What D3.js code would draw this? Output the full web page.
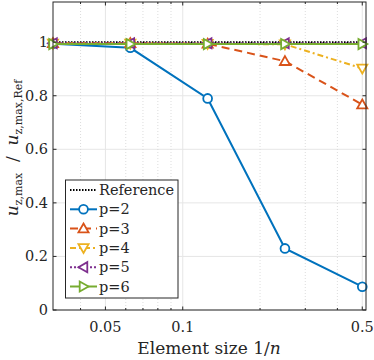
<!DOCTYPE html>
<html>
<head>
<meta charset="utf-8">
<script src="https://cdn.jsdelivr.net/npm/d3@7"></script>
<style>
  body { margin: 0; background: #fff; }
  svg text { font-family: "DejaVu Serif", "Liberation Serif", serif; fill: #262626; }
</style>
</head>
<body>
<svg id="chart" width="374" height="360"></svg>
<script>
  const sizes = [1/32, 1/16, 1/8, 1/4, 1/2];
  const reference = [1, 1, 1, 1, 1];
  const p2 = [0.994, 0.979, 0.790, 0.230, 0.087];
  const p3 = [0.996, 0.996, 0.994, 0.929, 0.767];
  const p4 = [0.995, 0.995, 0.994, 0.992, 0.902];
  const p5 = [0.996, 0.996, 0.996, 0.996, 0.996];
  const p6 = [0.993, 0.993, 0.993, 0.993, 0.993];
  const xTicks = [0.05, 0.1, 0.5];
  const xMinor = [0.04, 0.06, 0.07, 0.08, 0.09, 0.2, 0.3, 0.4];
  const yTicks = [0, 0.2, 0.4, 0.6, 0.8, 1];

  const series = [
    {name: 'p=2', values: p2, color: '#0072BD', dash: null, marker: 'circle'},
    {name: 'p=3', values: p3, color: '#D95319', dash: '8,5', marker: 'up'},
    {name: 'p=4', values: p4, color: '#EDB120', dash: '6,3,2,3', marker: 'down'},
    {name: 'p=5', values: p5, color: '#7E2F8E', dash: '2,2', marker: 'left'},
    {name: 'p=6', values: p6, color: '#77AC30', dash: null, marker: 'right'}
  ];

  const M = {left: 53, right: 366, top: 2, bottom: 310};
  const x = d3.scaleLog().domain([1/32, 0.517]).range([M.left, M.right]);
  const y = d3.scaleLinear().domain([0, 1.15]).range([M.bottom, M.top]);

  const svg = d3.select('#chart');

  // grid
  const grid = svg.append('g');
  grid.selectAll('.ym').data(yTicks).enter().append('line')
    .attr('x1', M.left).attr('x2', M.right)
    .attr('y1', d => y(d)).attr('y2', d => y(d))
    .attr('stroke', '#e6e6e6').attr('stroke-width', 1);
  grid.selectAll('.xm').data(xTicks).enter().append('line')
    .attr('x1', d => x(d)).attr('x2', d => x(d))
    .attr('y1', M.top).attr('y2', M.bottom)
    .attr('stroke', '#e6e6e6').attr('stroke-width', 1);
  grid.selectAll('.xn').data(xMinor).enter().append('line')
    .attr('x1', d => x(d)).attr('x2', d => x(d))
    .attr('y1', M.top).attr('y2', M.bottom)
    .attr('stroke', '#d4d4d4').attr('stroke-width', 0.8)
    .attr('stroke-dasharray', '1,2');

  // reference line
  const line = d3.line().x((d, i) => x(sizes[i])).y(d => y(d));
  svg.append('path').datum(reference)
    .attr('d', line).attr('fill', 'none')
    .attr('stroke', '#000').attr('stroke-width', 2).attr('stroke-dasharray', '1.5,1.5');

  function markerPath(type, r) {
    const h = r * 1.15;
    if (type === 'up') return `M0,${-h} L${h},${h*0.75} L${-h},${h*0.75} Z`;
    if (type === 'down') return `M0,${h} L${h},${-h*0.75} L${-h},${-h*0.75} Z`;
    if (type === 'left') return `M${-h},0 L${h*0.75},${-h} L${h*0.75},${h} Z`;
    if (type === 'right') return `M${h},0 L${-h*0.75},${-h} L${-h*0.75},${h} Z`;
    return d3.symbol().type(d3.symbolCircle).size(Math.PI * r * r)();
  }

  function drawMarker(g, type, color, cx, cy) {
    g.append('path')
      .attr('d', markerPath(type, 4.4))
      .attr('transform', `translate(${cx},${cy})`)
      .attr('fill', '#fff').attr('stroke', color).attr('stroke-width', 1.8);
  }

  series.forEach(s => {
    const g = svg.append('g');
    g.append('path').datum(s.values)
      .attr('d', line).attr('fill', 'none')
      .attr('stroke', s.color).attr('stroke-width', 2)
      .attr('stroke-dasharray', s.dash);
    s.values.forEach((v, i) => drawMarker(g, s.marker, s.color, x(sizes[i]), y(v)));
  });

  // axes box and ticks
  const ax = svg.append('g');
  ax.append('rect')
    .attr('x', M.left).attr('y', M.top)
    .attr('width', M.right - M.left).attr('height', M.bottom - M.top)
    .attr('fill', 'none').attr('stroke', '#262626').attr('stroke-width', 1);
  const tl = 3.5;
  yTicks.forEach(t => {
    ax.append('line').attr('x1', M.left).attr('x2', M.left + tl)
      .attr('y1', y(t)).attr('y2', y(t)).attr('stroke', '#262626');
    ax.append('line').attr('x1', M.right).attr('x2', M.right - tl)
      .attr('y1', y(t)).attr('y2', y(t)).attr('stroke', '#262626');
    ax.append('text').attr('x', M.left - 5).attr('y', y(t) + 5)
      .attr('text-anchor', 'end').attr('font-size', 14.5).text(d3.format('')(t));
  });
  xTicks.forEach(t => {
    ax.append('line').attr('x1', x(t)).attr('x2', x(t))
      .attr('y1', M.bottom).attr('y2', M.bottom - tl).attr('stroke', '#262626');
    ax.append('line').attr('x1', x(t)).attr('x2', x(t))
      .attr('y1', M.top).attr('y2', M.top + tl).attr('stroke', '#262626');
    ax.append('text').attr('x', x(t)).attr('y', 332)
      .attr('text-anchor', 'middle').attr('font-size', 14.5).text(t);
  });
  xMinor.forEach(t => {
    ax.append('line').attr('x1', x(t)).attr('x2', x(t))
      .attr('y1', M.bottom).attr('y2', M.bottom - 2).attr('stroke', '#262626');
    ax.append('line').attr('x1', x(t)).attr('x2', x(t))
      .attr('y1', M.top).attr('y2', M.top + 2).attr('stroke', '#262626');
  });

  // x label
  const xl = svg.append('text').attr('x', 209).attr('y', 354)
    .attr('text-anchor', 'middle').attr('font-size', 17);
  xl.append('tspan').text('Element size 1/');
  xl.append('tspan').attr('font-style', 'italic').text('n');

  // y label
  const yl = svg.append('text')
    .attr('transform', 'translate(18,148) rotate(-90)')
    .attr('text-anchor', 'middle').attr('font-size', 17);
  yl.append('tspan').attr('font-style', 'italic').text('u');
  yl.append('tspan').attr('font-size', 11).attr('dy', 4).text('z');
  yl.append('tspan').attr('font-size', 11).text(',max');
  yl.append('tspan').attr('dy', -4).text('\u00a0\u00a0/\u00a0\u00a0');
  yl.append('tspan').attr('font-style', 'italic').text('u');
  yl.append('tspan').attr('font-size', 11).attr('dy', 4).text('z');
  yl.append('tspan').attr('font-size', 11).text(',max,Ref');

  // legend
  const lg = svg.append('g');
  lg.append('rect').attr('x', 65.5).attr('y', 180).attr('width', 112.5).attr('height', 118)
    .attr('fill', '#fff').attr('stroke', '#262626').attr('stroke-width', 1);
  const entries = [{name: 'Reference', color: '#000', dash: '1.5,1.5', marker: null}].concat(series);
  entries.forEach((e, i) => {
    const ly = 190 + i * 19.3;
    lg.append('line').attr('x1', 70).attr('x2', 97).attr('y1', ly).attr('y2', ly)
      .attr('stroke', e.color).attr('stroke-width', 2)
      .attr('stroke-dasharray', e.dash);
    if (e.marker) drawMarker(lg, e.marker, e.color, 83.5, ly);
    lg.append('text').attr('x', 99).attr('y', ly + 5).attr('font-size', 14.5).text(e.name);
  });
</script>
</body>
</html>
